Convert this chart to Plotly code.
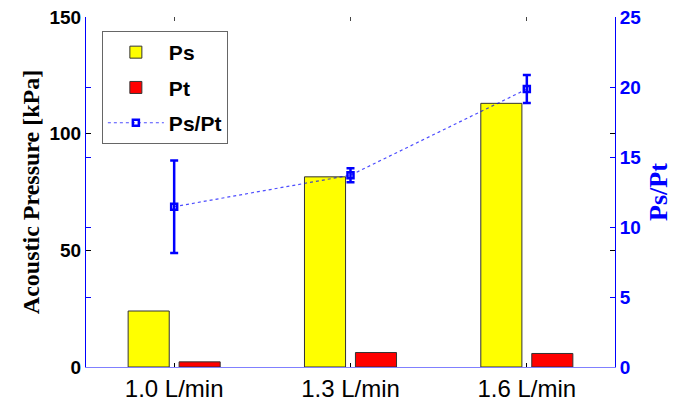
import plotly.graph_objects as go

categories = ["1.0 L/min", "1.3 L/min", "1.6 L/min"]
ps_values = [24.0, 81.5, 113.0]
pt_values = [2.2, 6.2, 5.8]
ratio_values = [11.45, 13.7, 19.85]
ratio_errors = [3.3, 0.5, 1.0]

left_ticks = [0, 50, 100, 150]
right_ticks = [0, 5, 10, 15, 20, 25]

fig = go.Figure()

fig.add_trace(go.Bar(
    x=categories, y=ps_values, name="Ps", legendgroup="a",
    marker=dict(color="#ffff00", line=dict(color="#333333", width=1)),
    width=0.233, offset=-0.261,
))
fig.add_trace(go.Bar(
    x=categories, y=pt_values, name="Pt", legendgroup="b",
    marker=dict(color="#ff0000", line=dict(color="#333333", width=1)),
    width=0.233, offset=0.028,
))
fig.add_trace(go.Scatter(
    x=categories, y=ratio_values, name="Ps/Pt", xaxis="x2", yaxis="y2", legendgroup="c",
    mode="lines+markers",
    line=dict(color="rgba(0,0,255,0.7)", width=1.2, dash="dot"),
    marker=dict(symbol="square-open", size=6, color="blue", line=dict(color="blue", width=2.5)),
    error_y=dict(type="data", array=ratio_errors, visible=True, color="blue", thickness=2.5, width=4),
))

fig.update_layout(
    width=673, height=409,
    margin=dict(l=86, r=58, t=17, b=42),
    plot_bgcolor="white", paper_bgcolor="white",
    showlegend=True,
    legend=dict(
        x=0.03, y=0.96, xanchor="left", yanchor="top",
        bordercolor="#666666", borderwidth=1, bgcolor="white",
        font=dict(family="Arial, Liberation Sans", size=21, color="black", weight="bold"),
        itemwidth=56, tracegroupgap=5, traceorder="grouped",
    ),
    xaxis=dict(
        type="category", range=[-0.5, 2.5], automargin=False,
        showline=True, linecolor="#8080ff", linewidth=1,
        ticks="inside", ticklen=4, tickcolor="black",
        tickfont=dict(family="Arial, Liberation Sans", size=24, color="black"),
        showgrid=False, zeroline=False,
    ),
    xaxis2=dict(
        type="category", range=[-0.5, 2.5], automargin=False,
        overlaying="x", side="top", anchor="y2",
        showline=False, showticklabels=False,
        ticks="inside", ticklen=4, tickcolor="#444444",
        showgrid=False, zeroline=False,
    ),
    yaxis=dict(
        range=[0, 150], tickvals=left_ticks, automargin=False,
        showline=True, linecolor="blue", linewidth=1, mirror="ticks",
        ticks="inside", ticklen=5, tickcolor="black",
        tickfont=dict(family="Arial, Liberation Sans", size=19, color="black", weight="bold"),
        showgrid=False, zeroline=False,
        title=dict(text="Acoustic Pressure [kPa]", standoff=3,
                   font=dict(family="Liberation Serif", size=24, color="black", weight="bold")),
    ),
    yaxis2=dict(
        overlaying="y", side="right", anchor="x2", range=[0, 25], tickvals=right_ticks, automargin=False,
        showline=True, linecolor="blue", linewidth=1, mirror="ticks",
        ticks="inside", ticklen=5, tickcolor="blue",
        tickfont=dict(family="Arial, Liberation Sans", size=19, color="blue", weight="bold"),
        showgrid=False, zeroline=False,
        title=dict(text="Ps/Pt", standoff=10,
                   font=dict(family="Liberation Serif", size=26, color="blue", weight="bold")),
    ),
)

fig.write_html(
    "out.html",
    config={"displayModeBar": False},
    post_script="document.body.style.margin='0';document.body.style.overflow='hidden';",
)
